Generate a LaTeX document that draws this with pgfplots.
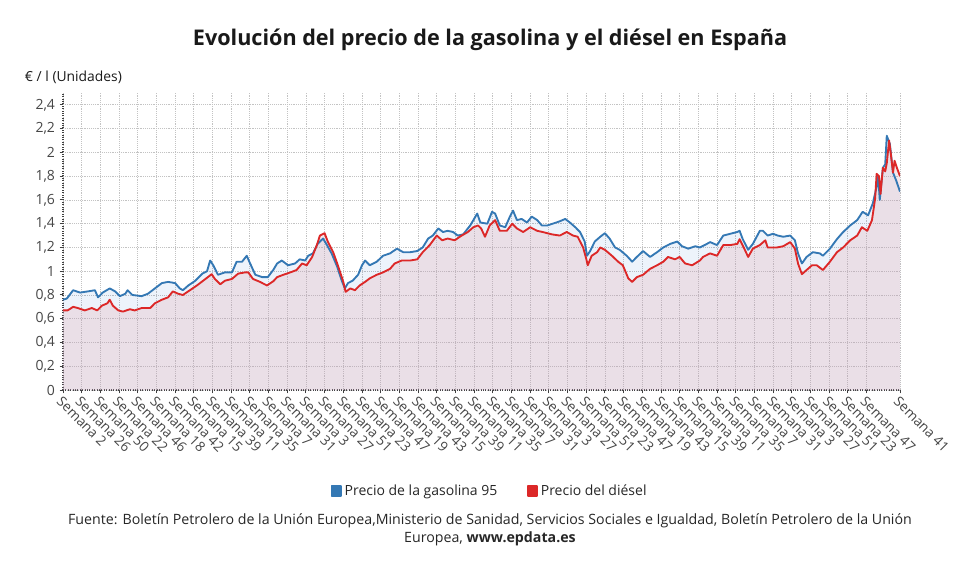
\documentclass[border=0pt]{standalone}
\usepackage{pgfplots}
\pgfplotsset{compat=1.18}
\usepackage{pgfplotstable}
\usepackage{fontspec}
\setmainfont{Open Sans}

\definecolor{gasolina}{RGB}{52,120,180}
\definecolor{diesel}{RGB}{220,40,40}
\definecolor{gasfill}{RGB}{30,100,200}
\definecolor{dieselfill}{RGB}{225,170,180}
\definecolor{textgray}{RGB}{70,70,70}
\definecolor{gridgray}{RGB}{195,195,195}

% semana (indice desde la primera), precio en euros por litro
\pgfplotstableread{
w p
0 0.76
5 0.77
13 0.84
22 0.82
32 0.83
41 0.84
45 0.78
51 0.82
60 0.855
67 0.83
73 0.79
80 0.81
83 0.84
89 0.80
101 0.79
109 0.81
118 0.855
127 0.90
135 0.91
144 0.90
150 0.855
154 0.84
161 0.88
170 0.92
179 0.98
185 1.00
189 1.09
193 1.05
199 0.97
208 0.99
217 0.99
223 1.08
230 1.08
236 1.13
240 1.07
247 0.97
256 0.95
263 0.95
270 1.01
275 1.065
281 1.09
289 1.05
298 1.065
304 1.10
311 1.09
315 1.13
321 1.15
327 1.23
334 1.275
339 1.22
345 1.15
352 1.04
358 0.92
362 0.855
366 0.90
372 0.92
379 0.97
384 1.05
388 1.09
394 1.05
403 1.08
411 1.13
420 1.15
429 1.19
437 1.16
446 1.16
455 1.17
462 1.20
469 1.275
475 1.30
482 1.36
488 1.33
494 1.34
501 1.33
507 1.30
514 1.31
523 1.385
532 1.485
536 1.41
545 1.40
551 1.50
555 1.485
561 1.385
568 1.37
574 1.46
578 1.51
583 1.43
589 1.44
596 1.41
602 1.46
609 1.43
615 1.385
622 1.385
629 1.40
638 1.42
645 1.44
651 1.41
658 1.37
664 1.33
670 1.25
673 1.13
677 1.17
683 1.25
690 1.29
696 1.32
702 1.275
709 1.20
715 1.18
724 1.13
731 1.08
737 1.12
745 1.17
754 1.12
763 1.16
771 1.20
780 1.23
789 1.25
795 1.21
803 1.19
812 1.21
818 1.20
827 1.23
831 1.245
840 1.22
848 1.30
857 1.315
866 1.33
869 1.34
873 1.27
880 1.18
886 1.23
895 1.34
899 1.34
905 1.30
912 1.315
918 1.30
925 1.29
934 1.30
940 1.26
944 1.15
949 1.065
955 1.12
963 1.16
972 1.15
976 1.13
985 1.19
994 1.27
1002 1.33
1011 1.385
1020 1.43
1027 1.50
1034 1.47
1040 1.57
1045 1.71
1047 1.80
1049 1.60
1053 1.87
1056 1.90
1058 2.14
1062 2.07
1066 1.83
1070 1.765
1075 1.67
}\gasolina

\pgfplotstableread{
w p
0 0.67
6 0.67
13 0.70
19 0.69
28 0.67
37 0.69
44 0.67
50 0.71
57 0.73
60 0.76
64 0.71
71 0.67
77 0.66
86 0.68
92 0.67
101 0.69
112 0.69
118 0.73
127 0.76
135 0.78
141 0.83
148 0.81
154 0.80
163 0.84
172 0.88
180 0.92
186 0.95
191 0.975
195 0.935
202 0.89
208 0.92
217 0.935
225 0.98
234 0.99
238 0.99
244 0.935
253 0.91
262 0.88
270 0.915
275 0.95
283 0.97
292 0.99
300 1.01
307 1.065
313 1.05
320 1.12
326 1.22
330 1.30
336 1.32
340 1.25
347 1.16
353 1.05
360 0.91
363 0.826
369 0.855
375 0.84
381 0.88
388 0.91
394 0.94
403 0.97
411 0.99
420 1.02
426 1.065
435 1.09
446 1.09
455 1.10
462 1.16
471 1.22
480 1.30
487 1.26
494 1.275
503 1.26
512 1.30
520 1.33
527 1.37
533 1.385
537 1.36
542 1.29
548 1.385
555 1.43
561 1.34
570 1.34
577 1.40
583 1.36
591 1.33
600 1.37
609 1.34
616 1.33
628 1.31
638 1.30
647 1.33
655 1.30
661 1.29
668 1.20
672 1.105
674 1.05
679 1.13
686 1.16
690 1.20
696 1.18
705 1.13
713 1.08
719 1.05
726 0.94
731 0.91
737 0.95
745 0.97
754 1.02
763 1.05
771 1.08
777 1.12
786 1.10
792 1.12
799 1.065
808 1.05
818 1.09
822 1.12
831 1.15
840 1.13
848 1.22
857 1.22
866 1.23
869 1.27
875 1.19
880 1.12
886 1.19
895 1.22
902 1.26
905 1.20
917 1.20
925 1.21
934 1.245
940 1.19
944 1.065
949 0.975
955 1.01
962 1.05
968 1.05
976 1.01
985 1.08
994 1.16
1002 1.20
1011 1.26
1020 1.30
1026 1.37
1033 1.34
1039 1.43
1043 1.61
1045 1.82
1048 1.80
1050 1.65
1053 1.87
1056 1.84
1058 1.91
1061 2.10
1063 2.00
1066 1.83
1068 1.93
1071 1.87
1075 1.80
}\diesel

\begin{document}
\begin{tikzpicture}
\path[use as bounding box] (0,0) rectangle (735pt,431.25pt);

\node[font=\bfseries\fontsize{16.2}{19}\selectfont, text=black!90] at (367.5pt,401.25pt)
  {Evolución del precio de la gasolina y el diésel en España};
\node[anchor=west, font=\fontsize{10.4}{12}\selectfont, text=black!90, inner sep=0pt] at (18.5pt,373.5pt)
  {€ / l (Unidades)};

\begin{axis}[
    at={(47.25pt,138.75pt)}, anchor=south west,
    scale only axis,
    width=627.75pt, height=222.75pt,
    xmin=0, xmax=1075, ymin=0, ymax=2.5,
    axis lines*=left,
    axis line style={densely dotted, black!75, line width=0.8pt},
    grid=major,
    major grid style={densely dotted, gridgray, line width=0.6pt},
    tick style={black!75, line width=0.7pt},
    tick align=outside,
    major tick length=2.5pt,
    ytick={0,0.2,...,2.4},
    xtick={0,24,...,1032,1075},
    xticklabels={Semana 2,Semana 26,Semana 50,Semana 22,Semana 46,Semana 18,Semana 42,Semana 15,Semana 39,Semana 11,Semana 35,Semana 7,Semana 31,Semana 3,Semana 27,Semana 51,Semana 23,Semana 47,Semana 19,Semana 43,Semana 15,Semana 39,Semana 11,Semana 35,Semana 7,Semana 31,Semana 3,Semana 27,Semana 51,Semana 23,Semana 47,Semana 19,Semana 43,Semana 15,Semana 39,Semana 11,Semana 35,Semana 7,Semana 31,Semana 3,Semana 27,Semana 51,Semana 23,Semana 47,Semana 41},
    xticklabel style={rotate=-45, anchor=north west, inner sep=1pt,
        font=\fontsize{10.3}{12}\selectfont, text=textgray},
    yticklabel style={font=\fontsize{10.5}{12}\selectfont, text=textgray},
    /pgf/number format/use comma,
    /pgf/number format/assume math mode=true,
    legend columns=2,
    legend style={at={(0.51,-0.34)}, anchor=center, draw=none, fill=none,
        font=\fontsize{10.5}{12}\selectfont, text=black!85,
        /tikz/every even column/.append style={column sep=20pt}},
]
\addplot[draw=none, fill=gasfill, fill opacity=0.08, forget plot]
    table[x=w, y=p] {\gasolina} \closedcycle;
\addplot[draw=none, fill=dieselfill, fill opacity=0.28, forget plot]
    table[x=w, y=p] {\diesel} \closedcycle;

\addplot[gasolina, line width=1.4pt, line join=round,
    legend image code/.code={\fill[gasolina] (0pt,-3.6pt) rectangle (7.2pt,3.6pt);}]
    table[x=w, y=p] {\gasolina};
\addlegendentry{Precio de la gasolina 95}
\addplot[diesel, line width=1.4pt, line join=round,
    legend image code/.code={\fill[diesel] (0pt,-3.6pt) rectangle (7.2pt,3.6pt);}]
    table[x=w, y=p] {\diesel};
\addlegendentry{Precio del diésel}
\end{axis}

\node[align=center, font=\fontsize{10.65}{13.5}\selectfont, text=black!85] at (367.5pt,33.75pt)
  {Fuente: Boletín Petrolero de la Unión Europea,Ministerio de Sanidad, Servicios Sociales e Igualdad, Boletín Petrolero de la Unión\\
   Europea, \textbf{www.epdata.es}};
\end{tikzpicture}
\end{document}
